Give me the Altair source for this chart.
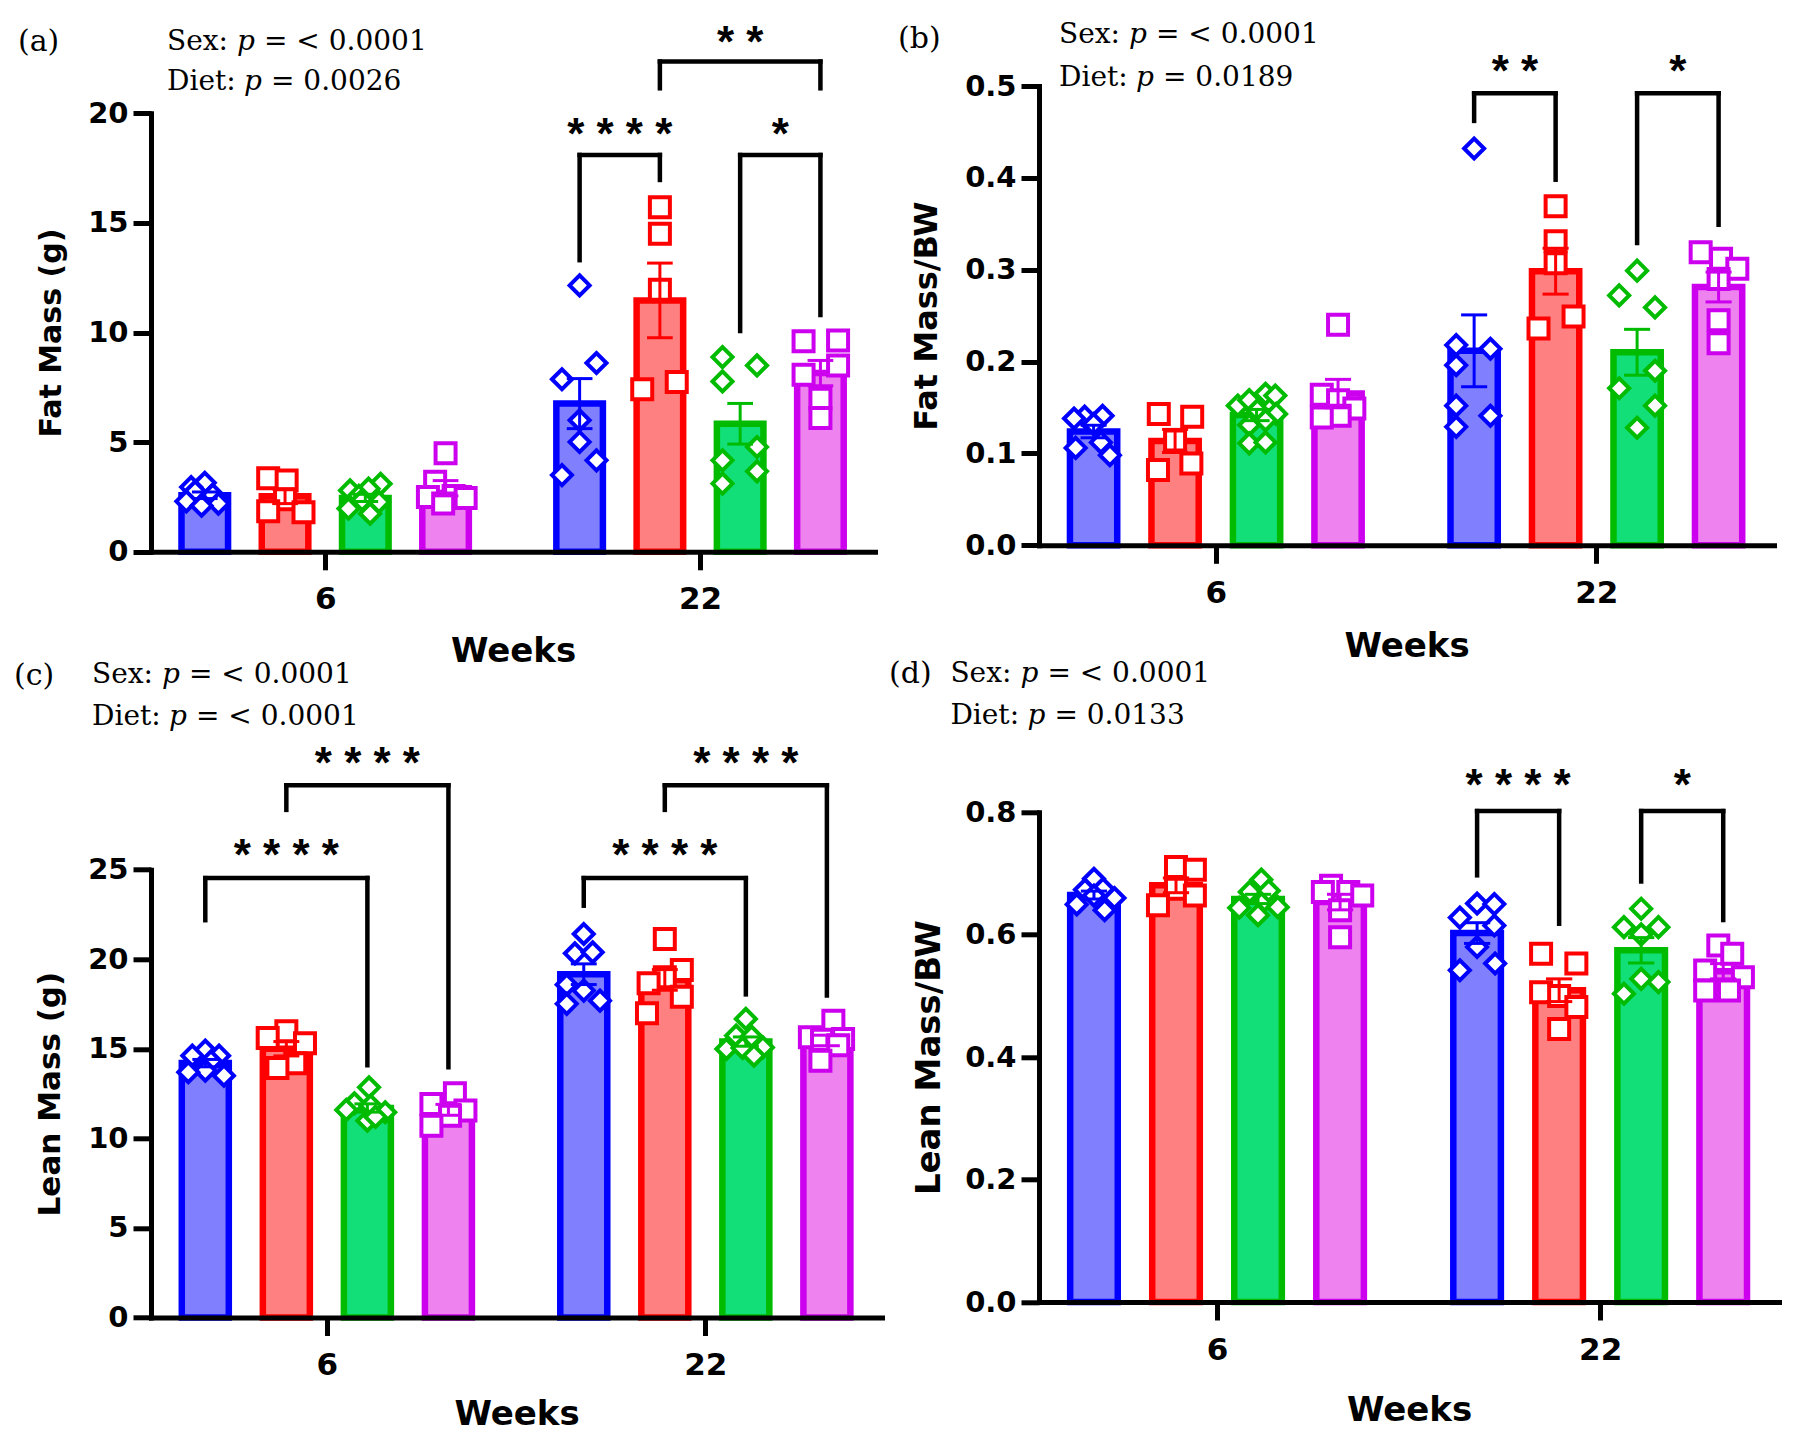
import altair as alt
import pandas as pd

# ---------------------------------------------------------------- groups
GROUPS = ["Male Control", "Male HFD", "Female Control", "Female HFD"]
STROKES = ["#0000FF", "#FF0000", "#00BB00", "#CC00EE"]
FILLS = ["#8080FF", "#FF8080", "#12DF78", "#EE82EE"]
SHAPES = ["diamond", "square", "diamond", "square"]
WEEKS = ["6", "22"]
WEEK_CENTER = [0.0, 4.67]

# ---------------------------------------------------------------- (a) fat mass (g)
FAT_W6 = [
    [3.15, 2.95, 2.75, 2.6, 2.3, 2.2, 2.1],
    [3.35, 3.25, 2.4, 1.85, 1.8],
    [3.1, 2.88, 2.8, 2.55, 2.35, 2.27, 1.97, 1.74],
    [4.5, 3.2, 2.55, 2.5, 2.45, 2.2],
]
FAT_W6_JIT = [
    [0, -0.17, -0.12, 0.1, -0.23, 0.17, -0.04],
    [-0.21, 0.02, 0, -0.21, 0.23],
    [0.19, 0.04, -0.19, -0.08, -0.04, 0.17, -0.21, 0.06],
    [0, -0.13, 0.1, -0.22, 0.25, -0.03],
]
FAT_W22 = [
    [12.15, 7.87, 8.61, 6.0, 5.01, 4.17, 3.5],
    [15.72, 14.51, 11.95, 7.41, 7.74],
    [8.88, 8.5, 7.77, 4.78, 4.17, 3.67, 3.11],
    [9.6, 9.64, 8.08, 8.5, 6.98, 6.1],
]
FAT_W22_JIT = [
    [0, -0.22, 0.21, 0, 0, 0.21, -0.22],
    [0, 0, 0, -0.22, 0.21],
    [-0.22, 0.21, -0.22, 0.21, -0.22, 0.21, -0.22],
    [-0.21, 0.22, -0.21, 0.22, 0, 0],
]
FAT_BRACKETS = [
    # week, left group, right group, line y, left leg end, right leg end, label, label y
    ("22", 0, 1, 18.1, 13.3, 16.96, "****", 19.38),
    ("22", 2, 3, 18.1, 10.07, 10.8, "*", 19.38),
    ("22", 1, 3, 22.36, 21.14, 21.14, "**", 23.57),
]

# ---------------------------------------------------------------- (b) fat mass / BW
FATBW_W6 = [
    [0.140, 0.138, 0.141, 0.132, 0.106, 0.112, 0.098],
    [0.143, 0.140, 0.114, 0.082, 0.089],
    [0.152, 0.158, 0.165, 0.163, 0.147, 0.143, 0.131, 0.136, 0.111, 0.112],
    [0.240, 0.164, 0.158, 0.149, 0.141, 0.139],
]
FATBW_W6_JIT = [
    [-0.11, -0.24, 0.11, 0, -0.22, 0.09, 0.2],
    [-0.2, 0.21, 0, -0.21, 0.2],
    [-0.23, -0.09, 0.11, 0.23, 0.01, 0.24, -0.09, 0.11, -0.09, 0.11],
    [0, -0.2, 0, 0.2, 0.02, -0.2],
]
FATBW_W22 = [
    [0.432, 0.218, 0.214, 0.196, 0.152, 0.141, 0.129],
    [0.369, 0.331, 0.307, 0.249, 0.236],
    [0.299, 0.272, 0.259, 0.190, 0.171, 0.152, 0.128],
    [0.319, 0.312, 0.301, 0.290, 0.245, 0.220],
]
FATBW_W22_JIT = [
    [0, -0.22, 0.2, -0.22, -0.22, 0.2, -0.22],
    [0, 0, 0, 0.22, -0.21],
    [0, -0.22, 0.22, 0.22, -0.22, 0.22, 0],
    [-0.22, 0.03, 0.23, 0, 0, 0],
]
FATBW_BRACKETS = [
    ("22", 0, 1, 0.492, 0.462, 0.398, "**", 0.524),
    ("22", 2, 3, 0.492, 0.329, 0.349, "*", 0.524),
]

# ---------------------------------------------------------------- (c) lean mass (g)
LEAN_W6 = [
    [14.9, 14.62, 14.62, 14.3, 13.78, 13.69, 13.5],
    [15.98, 15.61, 15.31, 14.19, 13.93],
    [12.85, 11.96, 11.83, 11.46, 11.59, 10.99, 11.2],
    [12.52, 11.92, 11.55, 11.27, 10.71],
]
LEAN_W6_JIT = [
    [0, -0.16, 0.17, 0.07, 0, -0.21, 0.23],
    [0, -0.23, 0.23, 0.11, -0.11],
    [0.02, -0.16, 0.04, 0.22, -0.26, 0, 0.1],
    [0.08, -0.21, 0.21, 0.02, -0.21],
]
LEAN_W22 = [
    [21.41, 20.33, 20.39, 18.58, 18.25, 17.69, 17.51],
    [21.13, 19.4, 19.0, 18.66, 17.91, 16.98],
    [16.67, 15.74, 15.68, 14.99, 15.05, 15.08, 14.62],
    [16.57, 15.64, 15.55, 15.5, 15.2, 14.34],
]
LEAN_W22_JIT = [
    [0, -0.11, 0.11, -0.21, 0, 0.2, -0.21],
    [0, 0.21, 0, -0.2, 0.21, -0.22],
    [0, -0.12, 0.07, -0.24, -0.04, 0.21, 0.1],
    [0.08, -0.21, 0.2, -0.06, 0.14, -0.08],
]
LEAN_BRACKETS = [
    ("6", 0, 2, 24.53, 22.18, 14.08, "****", 26.19),
    ("6", 1, 3, 29.71, 28.34, 13.97, "****", 31.34),
    ("22", 0, 2, 24.53, 22.99, 18.04, "****", 26.19),
    ("22", 1, 3, 29.71, 28.34, 17.97, "****", 31.34),
]

# ---------------------------------------------------------------- (d) lean mass / BW
LEANBW_W6 = [
    [0.6915, 0.6735, 0.675, 0.66, 0.6495, 0.64, 0.664],
    [0.7105, 0.706, 0.675, 0.664, 0.648],
    [0.690, 0.670, 0.656, 0.645, 0.644, 0.632, 0.672],
    [0.680, 0.670, 0.670, 0.664, 0.640, 0.596],
]
LEANBW_W6_JIT = [
    [0, -0.11, 0.11, 0.25, -0.21, 0.13, 0],
    [0, 0.23, 0, 0.23, -0.22],
    [0.04, -0.1, 0.08, 0.24, -0.23, 0, 0.13],
    [-0.11, -0.21, 0.1, 0.27, 0, 0],
]
LEANBW_W22 = [
    [0.651, 0.650, 0.628, 0.615, 0.580, 0.542, 0.553],
    [0.569, 0.553, 0.506, 0.500, 0.482, 0.446],
    [0.6425, 0.6124, 0.6124, 0.6005, 0.528, 0.5226, 0.5036],
    [0.5825, 0.569, 0.5417, 0.5307, 0.509, 0.509],
]
LEANBW_W22_JIT = [
    [0, 0.21, -0.21, 0.21, 0, -0.21, 0.22],
    [-0.22, 0.21, -0.22, 0, 0.21, 0],
    [0, -0.21, 0.21, 0, 0, 0.21, -0.21],
    [-0.06, 0.11, -0.22, 0.24, -0.22, 0.07],
]
LEANBW_BRACKETS = [
    ("22", 0, 1, 0.802, 0.697, 0.618, "****", 0.856),
    ("22", 2, 3, 0.802, 0.687, 0.624, "*", 0.856),
]

# ---------------------------------------------------------------- styling
SANS = "DejaVu Sans"
SERIF = "DejaVu Serif"
STAR_FONT = "Liberation Sans"
X_DOMAIN = [-2.17, 6.85]
BAR_HALF = 0.29
CAP_HALF = 0.16
ONE_ROW = pd.DataFrame({"k": [0]})


def build_points(w6, w6_jit, w22, w22_jit):
    rows = []
    for wk, center, vals, jits in ((WEEKS[0], WEEK_CENTER[0], w6, w6_jit),
                                   (WEEKS[1], WEEK_CENTER[1], w22, w22_jit)):
        for gi, g in enumerate(GROUPS):
            slot = center + gi - 1.5
            for v, j in zip(vals[gi], jits[gi]):
                rows.append({"week": wk, "group": g, "value": v,
                             "center": slot, "pos": slot + j})
    return pd.DataFrame(rows)


def build_brackets(items):
    rows = []
    for wk, gl, gr, y_line, y_left, y_right, label, y_label in items:
        c = WEEK_CENTER[WEEKS.index(wk)]
        xl, xr = c + gl - 1.5, c + gr - 1.5
        rows.append({"xl": xl, "xr": xr, "xm": (xl + xr) / 2, "y_line": y_line,
                     "y_left": y_left, "y_right": y_right,
                     "label": " ".join(label), "y_label": y_label})
    return pd.DataFrame(rows)


def text_at(text, x, y, size, font=SERIF, style="normal"):
    return alt.Chart(ONE_ROW).mark_text(
        text=text, font=font, fontSize=size, fontStyle=style, align="left",
        baseline="middle", color="black",
    ).encode(x=alt.value(x), y=alt.value(y))


def stats_header(tag, tag_xy, sex_p, diet_p, x0, y_sex, y_diet):
    layers = [text_at(tag, tag_xy[0], tag_xy[1], 30)]
    for word, adv, pval, y in (("Sex:", 70, sex_p, y_sex), ("Diet:", 77, diet_p, y_diet)):
        layers.append(text_at(word, x0, y, 28))
        layers.append(text_at("p", x0 + adv, y, 28, style="italic"))
        layers.append(text_at("= " + pval, x0 + adv + 27, y, 28))
    return layers


def panel(df, brk, y_title, y_max, y_ticks, y_fmt, width, height, y_top,
          title_x, title_size, weeks_y, header):
    x_scale = alt.Scale(domain=X_DOMAIN, nice=False, zero=False)
    y_scale = alt.Scale(domain=[0, y_max], nice=False, zero=True, range=[height, y_top])
    common = dict(
        domainColor="black", domainWidth=5, domainCap="square",
        tickColor="black", tickWidth=5, tickSize=18,
        labelFont=SANS, labelFontWeight="bold", labelColor="black",
        labelFlush=False, labelOverlap=False,
        titleFont=SANS, titleFontWeight="bold", titleColor="black",
        grid=False, zindex=1,
    )
    x_axis = alt.Axis(values=WEEK_CENTER, labelExpr="datum.value < 1 ? '6' : '22'",
                      labelFontSize=31, labelPadding=15, titleFontSize=34,
                      titleY=weeks_y, titleBaseline="middle", **common)
    y_axis = alt.Axis(values=y_ticks, format=y_fmt, labelFontSize=29, labelPadding=5,
                      titleFontSize=title_size, titleAngle=270, titleX=title_x,
                      titleBaseline="middle", titleAlign="center", **common)

    fill = alt.Fill("group:N", scale=alt.Scale(domain=GROUPS, range=FILLS), legend=None)
    stroke = alt.Stroke("group:N", scale=alt.Scale(domain=GROUPS, range=STROKES), legend=None)

    base = alt.Chart(df)
    stats = base.transform_aggregate(
        mean="mean(value)", sd="stdev(value)", n="count()",
        groupby=["week", "group", "center"],
    ).transform_calculate(
        sem="datum.sd / sqrt(datum.n)",
        lo="datum.mean - datum.sem",
        hi="datum.mean + datum.sem",
        bx1=f"datum.center - {BAR_HALF}",
        bx2=f"datum.center + {BAR_HALF}",
        cx1=f"datum.center - {CAP_HALF}",
        cx2=f"datum.center + {CAP_HALF}",
        zero="0",
    )

    bars = stats.mark_bar(strokeWidth=6.5).encode(
        x=alt.X("bx1:Q", scale=x_scale, axis=x_axis, title="Weeks"),
        x2="bx2:Q",
        y=alt.Y("mean:Q", scale=y_scale, axis=y_axis, title=y_title),
        y2="zero:Q",
        fill=fill, stroke=stroke,
    )
    points = base.mark_point(filled=True, fill="white", size=400, strokeWidth=4,
                             opacity=1).encode(
        x="pos:Q", y="value:Q",
        shape=alt.Shape("group:N", scale=alt.Scale(domain=GROUPS, range=SHAPES), legend=None),
        stroke=stroke,
    )
    err = stats.mark_rule(strokeWidth=3).encode(x="center:Q", y="lo:Q", y2="hi:Q", stroke=stroke)
    cap_hi = stats.mark_rule(strokeWidth=3).encode(x="cx1:Q", x2="cx2:Q", y="hi:Q", stroke=stroke)
    cap_lo = stats.mark_rule(strokeWidth=3).encode(x="cx1:Q", x2="cx2:Q", y="lo:Q", stroke=stroke)

    bk = alt.Chart(brk)
    rule_kw = dict(strokeWidth=4.5, color="black", strokeCap="square")
    top_line = bk.mark_rule(**rule_kw).encode(x="xl:Q", x2="xr:Q", y="y_line:Q")
    left_leg = bk.mark_rule(**rule_kw).encode(x="xl:Q", y="y_line:Q", y2="y_left:Q")
    right_leg = bk.mark_rule(**rule_kw).encode(x="xr:Q", y="y_line:Q", y2="y_right:Q")
    stars = bk.mark_text(font=STAR_FONT, fontWeight="bold", fontSize=44,
                         baseline="alphabetic", dy=22, color="black").encode(
        x="xm:Q", y="y_label:Q", text="label:N")

    return alt.layer(bars, points, err, cap_hi, cap_lo, top_line, left_leg, right_leg,
                     stars, *header).properties(width=width, height=height)


pa = panel(build_points(FAT_W6, FAT_W6_JIT, FAT_W22, FAT_W22_JIT), build_brackets(FAT_BRACKETS),
           "Fat Mass (g)", 20, [0, 5, 10, 15, 20], "d", 724, 465.8, 27.3, -100, 30, 100,
           stats_header("(a)", (-133, -44), "< 0.0001", "0.0026", 16, -44, -4))
pb = panel(build_points(FATBW_W6, FATBW_W6_JIT, FATBW_W22, FATBW_W22_JIT), build_brackets(FATBW_BRACKETS),
           "Fat Mass/BW", 0.5, [0, 0.1, 0.2, 0.3, 0.4, 0.5], ".1f", 735, 459.3, 0, -113, 32, 101,
           stats_header("(b)", (-141, -47), "< 0.0001", "0.0189", 20, -51, -8))
pc = panel(build_points(LEAN_W6, LEAN_W6_JIT, LEAN_W22, LEAN_W22_JIT), build_brackets(LEAN_BRACKETS),
           "Lean Mass (g)", 25, [0, 5, 10, 15, 20, 25], "d", 731, 505.2, 57.4, -101, 31, 97,
           stats_header("(c)", (-137, -136), "< 0.0001", "< 0.0001", -59, -137, -95))
pd_ = panel(build_points(LEANBW_W6, LEANBW_W6_JIT, LEANBW_W22, LEANBW_W22_JIT), build_brackets(LEANBW_BRACKETS),
            "Lean Mass/BW", 0.8, [0, 0.2, 0.4, 0.6, 0.8], ".1f", 740, 489.7, 0, -110, 34, 108,
            stats_header("(d)", (-150, -138.5), "< 0.0001", "0.0133", -88.6, -138.5, -96))

chart = alt.concat(
    pa, pb, pc, pd_, columns=2,
    spacing={"row": 260.3, "column": 157},
    bounds="flush", align="each",
).configure_view(stroke=None).properties(
    padding={"left": 14, "top": 21, "right": 10, "bottom": 10},
    background="white",
)

chart.save("out.html", embed_options={"renderer": "svg", "actions": False})
